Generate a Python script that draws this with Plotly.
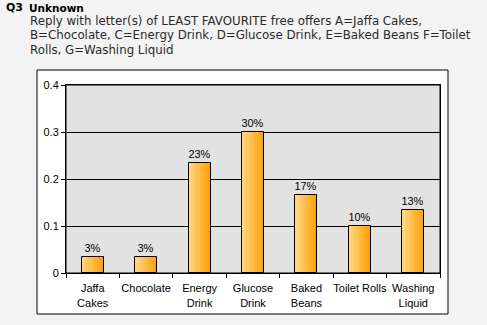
import plotly.graph_objects as go

categories = ["Jaffa<br>Cakes", "Chocolate", "Energy<br>Drink", "Glucose<br>Drink",
              "Baked<br>Beans", "Toilet Rolls", "Washing<br>Liquid"]
values = [0.0333, 0.0333, 0.2333, 0.30, 0.1667, 0.10, 0.1333]
labels = ["3%", "3%", "23%", "30%", "17%", "10%", "13%"]
y_ticks = [0, 0.1, 0.2, 0.3, 0.4]
y_tick_text = ["0", "0.1", "0.2", "0.3", "0.4"]
question_lines = [
    "Reply with letter(s) of LEAST FAVOURITE free offers A=Jaffa Cakes,",
    "B=Chocolate, C=Energy Drink, D=Glucose Drink, E=Baked Beans F=Toilet",
    "Rolls, G=Washing Liquid",
]

W = 0.41
N = 10
c0 = (255, 214, 128)
c1 = (255, 160, 10)

fig = go.Figure()
for i in range(N):
    t = i / (N - 1)
    col = "rgb(%d,%d,%d)" % tuple(round(a + (b - a) * t) for a, b in zip(c0, c1))
    fig.add_trace(go.Bar(
        x=categories, y=values, width=W / N, offset=-W / 2 + i * W / N,
        marker=dict(color=col, line=dict(width=0)), hoverinfo="skip", showlegend=False))
fig.add_trace(go.Bar(
    x=categories, y=values, width=W, offset=-W / 2,
    marker=dict(color="rgba(0,0,0,0)", line=dict(color="black", width=1)),
    text=labels, textposition="outside", cliponaxis=False,
    textfont=dict(family="Liberation Sans, Arial", size=11, color="black"),
    showlegend=False))

L, R, T, B = 66, 47, 85, 52
pw, ph = 487 - L - R, 325 - T - B

def px(x):
    return (x - L) / pw

def py(y):
    return (325 - B - y) / ph

annotations = [
    dict(xref="paper", yref="paper", x=px(5), y=py(7.5), xanchor="left", yanchor="middle",
         text="<b>Q3</b>", showarrow=False, borderpad=0,
         font=dict(family="DejaVu Sans", size=11, color="#000000")),
    dict(xref="paper", yref="paper", x=px(28), y=py(7.5), xanchor="left", yanchor="middle",
         text="<b>Unknown</b>", showarrow=False, borderpad=0,
         font=dict(family="DejaVu Sans", size=10.5, color="#000000")),
]
for k, line in enumerate(question_lines):
    annotations.append(dict(
        xref="paper", yref="paper", x=px(29), y=py(21.5 + 14 * k), xanchor="left", yanchor="middle",
        text=line, showarrow=False, borderpad=0,
        font=dict(family="DejaVu Sans", size=11.8, color="#2a2a2a")))

fig.update_layout(
    width=487, height=325,
    margin=dict(l=L, r=R, t=T, b=B, autoexpand=False),
    paper_bgcolor="#f3f3f3",
    plot_bgcolor="#e2e2e2",
    barmode="overlay",
    bargap=0,
    font=dict(family="Liberation Sans, Arial", size=11, color="black"),
    shapes=[
        dict(type="rect", xref="paper", yref="paper", x0=px(37), x1=px(448), y0=py(314), y1=py(70),
             fillcolor="white", line=dict(color="black", width=1), layer="below"),
        dict(type="rect", xref="paper", yref="paper", x0=0, x1=1, y0=0, y1=1,
             fillcolor="#e2e2e2", line=dict(color="black", width=1), layer="below"),
    ],
    annotations=annotations,
)
fig.update_xaxes(
    showline=True, linecolor="black", linewidth=1, mirror=True,
    ticks="outside", tickson="boundaries", ticklen=4, tickcolor="black",
    showgrid=False, tickfont=dict(size=11), tickangle=0, automargin=False,
    ticklabelstandoff=5,
)
fig.update_yaxes(
    range=[0, 0.4], tickvals=y_ticks, ticktext=y_tick_text,
    showline=True, linecolor="black", linewidth=1, mirror=True,
    ticks="outside", ticklen=4, tickcolor="black",
    showgrid=True, gridcolor="black", gridwidth=1, zeroline=False,
    tickfont=dict(size=11), automargin=False,
)
fig.write_html("out.html")
